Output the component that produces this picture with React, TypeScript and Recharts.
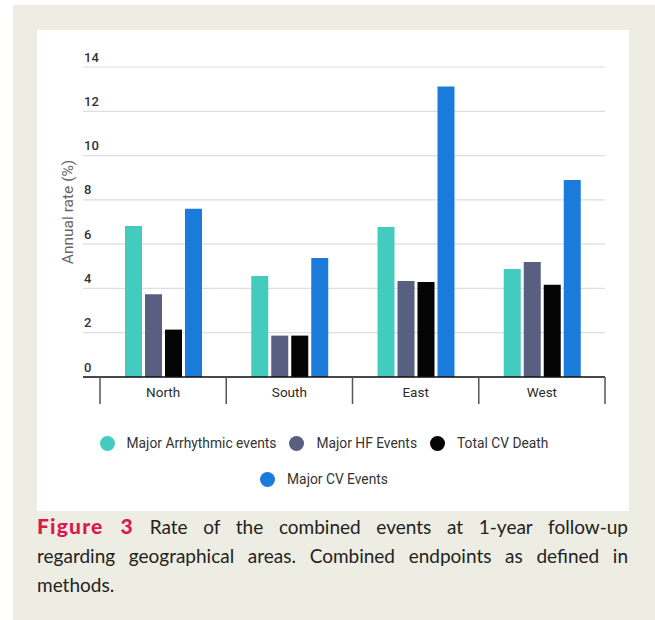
import { BarChart, Bar, XAxis, YAxis, CartesianGrid, Legend, Label } from 'recharts';

const categories = ['North', 'South', 'East', 'West'];
const arrhythmic = [6.82, 4.56, 6.77, 4.88];
const hfEvents = [3.74, 1.87, 4.34, 5.19];
const cvDeath = [2.14, 1.87, 4.29, 4.17];
const cvEvents = [7.6, 5.37, 13.12, 8.9];
const yTicks = [0, 2, 4, 6, 8, 10, 12, 14];

const seriesNames = ['Major Arrhythmic events', 'Major HF Events', 'Total CV Death', 'Major CV Events'];
const seriesKeys = ['arrhythmic', 'hf', 'death', 'cv'];
const seriesColors = ['#43CCBE', '#585F80', '#050505', '#1B7BDB'];

const data = categories.map((region, i) => ({
  region,
  arrhythmic: arrhythmic[i],
  hf: hfEvents[i],
  death: cvDeath[i],
  cv: cvEvents[i],
}));

const FONT = 'Roboto, sans-serif';
const HALF_BAND = (592 - 45 - 1 - 24 - 17) / categories.length / 2;

const CategoryTick = (props: any) => {
  const { x, y, payload, index } = props;
  const half = payload && payload.offset ? payload.offset : HALF_BAND;
  return (
    <g>
      <line x1={x - half} x2={x - half} y1={y} y2={y + 27} stroke="#555" strokeWidth={1.5} />
      {index === categories.length - 1 && (
        <line x1={x + half} x2={x + half} y1={y} y2={y + 27} stroke="#555" strokeWidth={1.5} />
      )}
      <text x={x} y={y + 15} textAnchor="middle" dominantBaseline="central"
        fontFamily={FONT} fontSize={13.5} fill="#2a2a2a">
        {payload.value}
      </text>
    </g>
  );
};

const ValueTick = (props: any) => {
  const { y, payload } = props;
  return (
    <text x={47} y={y - 10} dominantBaseline="central" fontFamily={FONT} fontSize={13} fontWeight={500} fill="#333">
      {payload.value}
    </text>
  );
};

const renderYLabel = () => (
  <text x={31} y={182} textAnchor="middle" dominantBaseline="central" transform="rotate(-90, 31, 182)"
    fontFamily={FONT} fontSize={15.5} fill="#666">
    Annual rate (%)
  </text>
);

const LegendItem = ({ i }: { i: number }) => (
  <div style={{ display: 'flex', alignItems: 'center' }}>
    <span style={{ width: 15, height: 15, borderRadius: '50%', background: seriesColors[i], marginRight: 12 }} />
    <span style={{ fontFamily: FONT, fontSize: 13.8, color: '#333' }}>{seriesNames[i]}</span>
  </div>
);

const renderLegend = () => (
  <div>
    <div style={{ display: 'flex', justifyContent: 'center', gap: 13, height: 20 }}>
      <LegendItem i={0} />
      <LegendItem i={1} />
      <LegendItem i={2} />
    </div>
    <div style={{ display: 'flex', justifyContent: 'center', height: 20, marginTop: 16 }}>
      <LegendItem i={3} />
    </div>
  </div>
);

export default function App() {
  return (
    <div style={{ position: 'absolute', left: 0, top: 0, width: 655, height: 620, background: '#fff' }}>
      <div style={{ position: 'absolute', left: 13, top: 5, width: 642, height: 615, background: '#EEEDE3' }} />
      <div style={{ position: 'absolute', left: 37, top: 30, width: 592, height: 481, background: '#fff' }}>
        <BarChart width={592} height={481} data={data} barSize={17} barGap={3}
          margin={{ top: 37, right: 24, left: 45, bottom: 104 }}>
          <CartesianGrid vertical={false} stroke="#DEDEDE" strokeWidth={1.2} />
          <YAxis width={1} domain={[0, 14]} ticks={yTicks} axisLine={false} tickLine={false} tick={<ValueTick />}>
            <Label content={renderYLabel} />
          </YAxis>
          <XAxis dataKey="region" height={30} interval={0} padding={{ left: 17, right: 0 }}
            axisLine={{ stroke: '#111', strokeWidth: 1.5 }} tickLine={false} tickSize={0} tickMargin={0}
            tick={<CategoryTick />} />
          <Legend verticalAlign="middle" align="center" content={renderLegend}
            wrapperStyle={{ left: 0, top: 403, width: 574 }} />
          {seriesKeys.map((k, i) => (
            <Bar key={k} dataKey={k} name={seriesNames[i]} fill={seriesColors[i]} isAnimationActive={false} />
          ))}
        </BarChart>
      </div>
      <div style={{ position: 'absolute', left: 37, top: 511, width: 591, fontFamily: 'Lato, sans-serif',
        fontSize: 19, lineHeight: '29px', color: '#222' }}>
        <div style={{ textAlign: 'justify', textAlignLast: 'justify' }}>
          <span style={{ color: '#D81B4F', fontWeight: 900, fontSize: 21, letterSpacing: 1.2 }}>Figure 3</span>
          {'  '}Rate of the combined events at 1-year follow-up
        </div>
        <div style={{ textAlign: 'justify', textAlignLast: 'justify' }}>
          regarding geographical areas. Combined endpoints as defined in
        </div>
        <div>methods.</div>
      </div>
    </div>
  );
}
